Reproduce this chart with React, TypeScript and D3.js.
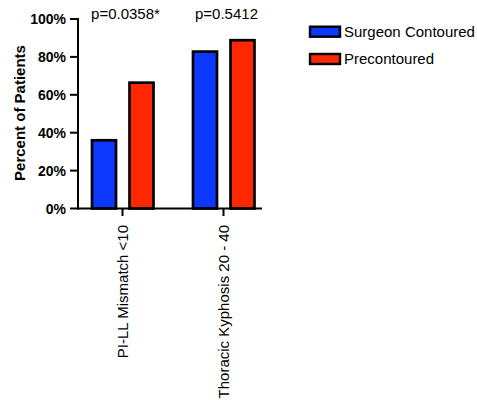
import React from "react";
import { scaleLinear, scaleBand } from "d3";

const categories = ["PI-LL Mismatch <10", "Thoracic Kyphosis 20 - 40"];
const series = ["Surgeon Contoured", "Precontoured"];
const surgeonValues = [36, 82.8];
const preValues = [66.4, 88.8];
const pValues = ["p=0.0358*", "p=0.5412"];
const yTicks = [0, 20, 40, 60, 80, 100];
const colors = ["#0C38FF", "#FF2800"];

const font = "Arial, 'Liberation Sans', Helvetica, sans-serif";

const App = () => {
  const width = 477;
  const height = 400;
  const x0 = 78;
  const y0 = 208.5;

  const yScale = scaleLinear().domain([0, 100]).range([y0, 19]);
  const xScale = scaleBand().domain(categories).range([72, 274]);
  const inner = scaleBand()
    .domain(series)
    .range([20, 81.5])
    .paddingInner(0.36)
    .paddingOuter(0);

  const values = [surgeonValues, preValues];

  const bars = categories.map((c, i) => (
    <g key={c} transform={`translate(${xScale(c)},0)`}>
      {series.map((s, j) => (
        <rect
          key={s}
          x={inner(s)}
          y={yScale(values[j][i])}
          width={inner.bandwidth()}
          height={y0 - yScale(values[j][i])}
          fill={colors[j]}
          stroke="#000"
          strokeWidth={2.7}
        />
      ))}
    </g>
  ));

  const yAxis = yTicks.map((t) => (
    <g key={t}>
      <line x1={70} x2={x0} y1={yScale(t)} y2={yScale(t)} stroke="#000" strokeWidth={2} />
      <text
        x={66}
        y={yScale(t)}
        dy="0.36em"
        textAnchor="end"
        fontWeight="bold"
        fontSize={14}
      >
        {t}%
      </text>
    </g>
  ));

  const xAxis = categories.map((c, i) => {
    const cx = (xScale(c) as number) + xScale.bandwidth() / 2;
    return (
      <g key={c}>
        <line x1={cx} x2={cx} y1={y0} y2={216} stroke="#000" strokeWidth={2} />
        <text
          transform={`translate(${cx},225) rotate(-90)`}
          dy="0.36em"
          textAnchor="end"
          fontSize={15}
        >
          {c}
        </text>
        <text x={cx + 3} y={19} textAnchor="middle" fontSize={15}>
          {pValues[i]}
        </text>
      </g>
    );
  });

  const legend = series.map((s, j) => (
    <g key={s} transform={`translate(310,${26.7 + j * 27.3})`}>
      <rect x={0} y={0} width={30} height={10} fill={colors[j]} stroke="#000" strokeWidth={2.4} />
      <text x={34} y={10} fontSize={15}>
        {s}
      </text>
    </g>
  ));

  return (
    <svg
      width={width}
      height={height}
      viewBox={`0 0 ${width} ${height}`}
      style={{ position: "absolute", left: 0, top: 0, background: "#fff" }}
      fontFamily={font}
    >
      {bars}
      <line x1={x0} x2={x0} y1={18} y2={y0 + 1} stroke="#000" strokeWidth={2} />
      <line x1={x0 - 1} x2={262} y1={y0} y2={y0} stroke="#000" strokeWidth={2} />
      {yAxis}
      {xAxis}
      <text
        transform="translate(20,113) rotate(-90)"
        dy="0.36em"
        textAnchor="middle"
        fontWeight="bold"
        fontSize={15}
      >
        Percent of Patients
      </text>
      {legend}
    </svg>
  );
};

export default App;
